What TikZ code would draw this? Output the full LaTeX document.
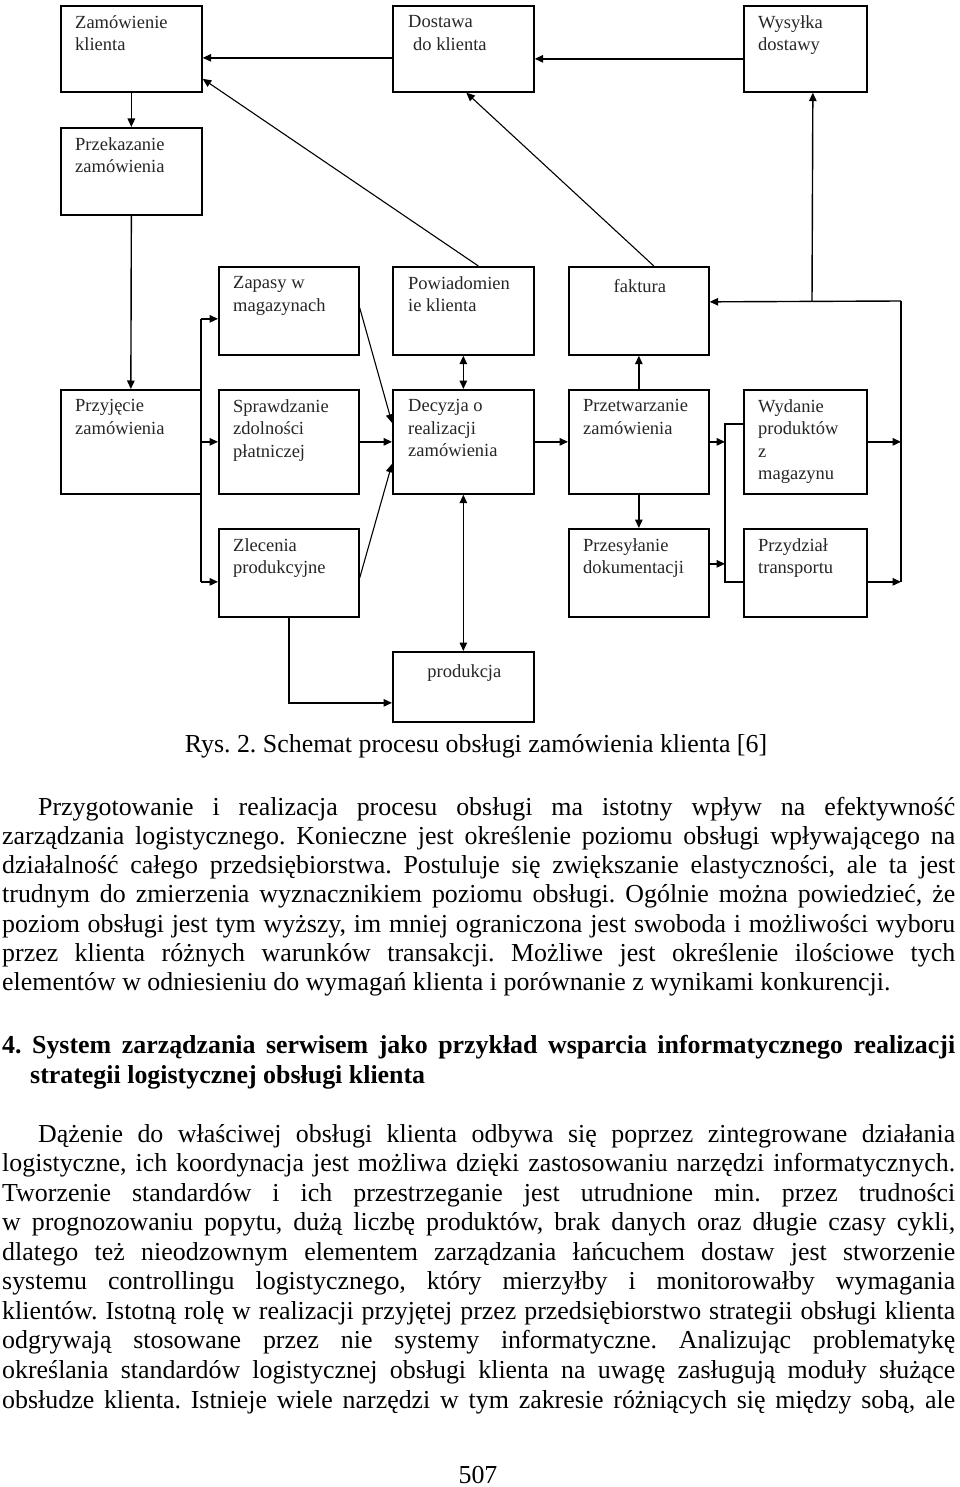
\documentclass[tikz,border=0pt]{standalone}
\usepackage{fontspec}
\setmainfont{Liberation Serif}
\usepackage{graphicx}
\usetikzlibrary{arrows.meta,calc}
\newlength\jlw
\newcommand\jline[2]{\settowidth\jlw{#2}\ifdim\jlw>#1\relax\resizebox{#1}{\height}{#2}\else\makebox[#1][s]{#2}\fi}
\frenchspacing
\begin{document}
\frenchspacing
\begin{tikzpicture}[x=1pt,y=-1pt,
  box/.style={draw, line width=1.7pt, inner sep=0pt, anchor=north west},
  btxt/.style={anchor=north west, inner sep=0pt, align=left, text=black!85,
    font=\fontsize{18.5}{22.5}\selectfont, execute at begin node=\strut},
  ctxt/.style={btxt, anchor=north, align=center},
  arr/.style={-{Triangle[length=8.5pt,width=7.5pt]}, line width=1.4pt},
  darr/.style={{Triangle[length=8.5pt,width=7.5pt]}-{Triangle[length=8.5pt,width=7.5pt]}, line width=1.4pt},
  ln/.style={line width=1.4pt},
  dg/.style={-{Triangle[length=8.5pt,width=7.5pt]}, line width=1.1pt},
  body/.style={anchor=base west, inner sep=0pt, font=\fontsize{25.9}{29.6}\selectfont},
  bodyc/.style={body, anchor=base}]
\fill[white] (0,0) rectangle (960,1487);
\useasboundingbox (0,0) rectangle (960,1487);

% boxes
\node[box, minimum width=141pt, minimum height=86pt] (zk) at (60,5) {};
\node[box, minimum width=141pt, minimum height=86pt] (dk) at (392,5) {};
\node[box, minimum width=123pt, minimum height=86pt] (wd) at (743,5) {};
\node[box, minimum width=141pt, minimum height=87pt] (pz) at (60,127) {};
\node[box, minimum width=140pt, minimum height=88pt] (zm) at (218,266) {};
\node[box, minimum width=141pt, minimum height=88pt] (pk) at (392,266) {};
\node[box, minimum width=140pt, minimum height=88pt] (fk) at (568,266) {};
\node[box, minimum width=140pt, minimum height=104pt] (pr) at (60,389) {};
\node[box, minimum width=140pt, minimum height=104pt] (sz) at (218,389) {};
\node[box, minimum width=141pt, minimum height=104pt] (de) at (392,389) {};
\node[box, minimum width=140pt, minimum height=104pt] (pt) at (568,389) {};
\node[box, minimum width=123pt, minimum height=104pt] (wp) at (743,389) {};
\node[box, minimum width=140pt, minimum height=88pt] (zp) at (218,528) {};
\node[box, minimum width=140pt, minimum height=88pt] (pd) at (568,528) {};
\node[box, minimum width=123pt, minimum height=88pt] (tr) at (743,528) {};
\node[box, minimum width=141pt, minimum height=70pt] (prod) at (392,651) {};

% box texts
\node[btxt] (zkt) at ([shift={(15pt,-10.25pt)}]zk.north west) {Zamówienie\\klienta};
\node[btxt] (dkt) at ([shift={(16pt,-10.25pt)}]dk.north west) {Dostawa\\\hspace*{5pt}do klienta};
\node[btxt] (wdt) at ([shift={(15pt,-10.25pt)}]wd.north west) {Wysyłka\\dostawy};
\node[btxt] (pzt) at ([shift={(15pt,-10.25pt)}]pz.north west) {Przekazanie\\zamówienia};
\node[btxt] (zmt) at ([shift={(15pt,-10.25pt)}]zm.north west) {Zapasy w\\magazynach};
\node[btxt] (pkt) at ([shift={(16pt,-10.25pt)}]pk.north west) {Powiadomien\\ie klienta};
\node[ctxt] (fkt) at ([shift={(1pt,-10.25pt)}]fk.north) {faktura};
\node[btxt] (prt) at ([shift={(15pt,-10.25pt)}]pr.north west) {Przyjęcie\\zamówienia};
\node[btxt] (szt) at ([shift={(15pt,-10.25pt)}]sz.north west) {Sprawdzanie\\zdolności\\płatniczej};
\node[btxt] (det) at ([shift={(16pt,-10.25pt)}]de.north west) {Decyzja o\\realizacji\\zamówienia};
\node[btxt] (ptt) at ([shift={(15pt,-10.25pt)}]pt.north west) {Przetwarzanie\\zamówienia};
\node[btxt] (wpt) at ([shift={(15pt,-10.25pt)}]wp.north west) {Wydanie\\produktów\\z\\magazynu};
\node[btxt] (zpt) at ([shift={(15pt,-10.25pt)}]zp.north west) {Zlecenia\\produkcyjne};
\node[btxt] (pdt) at ([shift={(15pt,-10.25pt)}]pd.north west) {Przesyłanie\\dokumentacji};
\node[btxt] (trt) at ([shift={(15pt,-10.25pt)}]tr.north west) {Przydział\\transportu};
\node[ctxt] (prodt) at ([shift={(1pt,-10.25pt)}]prod.north) {produkcja};

% helper coordinates
\coordinate (bL) at (201,0);
\coordinate (bM) at (725,0);
\coordinate (bR) at (901,0);
\coordinate (jR) at (901,301);
\coordinate (jW) at (812,301);

% top row
\draw[arr] ([yshift=-9pt]dk.west) -- ([yshift=-9pt]zk.east);
\draw[arr] ([yshift=-10pt]wd.west) -- ([yshift=-10pt]dk.east);
\draw[arr] (zk.south) -- (pz.north);
\draw[arr] (pz.south) -- (pr.north);
\draw[dg] ([xshift=15pt]pk.north) -- ([yshift=-30pt]zk.east);
\draw[dg] ([xshift=15pt]fk.north) -- ([xshift=3pt]dk.south);

% left bus
\draw[ln] ([yshift=-8pt]zm.west -| bL) -- ([yshift=-9pt]zp.west -| bL);
\draw[arr] ([yshift=-8pt]zm.west -| bL) -- ([yshift=-8pt]zm.west);
\draw[arr] (sz.west -| bL) -- (sz.west);
\draw[arr] ([yshift=-9pt]zp.west -| bL) -- ([yshift=-9pt]zp.west);

% into decision
\draw[dg] ([yshift=3pt]zm.east) -- ([yshift=19pt]de.west);
\draw[arr] (sz.east) -- (de.west);
\draw[dg] ([yshift=-5pt]zp.east) -- ([yshift=-22pt]de.west);
\draw[darr] (pk.south) -- (de.north);
\draw[darr] (de.south) -- (prod.north);
\draw[arr] (zp.south) |- ([yshift=-16pt]prod.west);
\draw[arr] (de.east) -- (pt.west);

% right part
\draw[arr] (pt.north) -- (fk.south);
\draw[arr] (pt.south) -- (pd.north);
\draw[arr] (pt.east) -- (pt.east -| bM);
\draw[arr] ([yshift=9pt]pd.east) -- ([yshift=9pt]pd.east -| bM);
\draw[ln] ([yshift=18pt]wp.west) -| ([yshift=-9pt]tr.west -| bM) -- ([yshift=-9pt]tr.west);
\draw[arr] (wp.east) -- (wp.east -| bR);
\draw[arr] ([yshift=-9pt]tr.east) -- ([yshift=-9pt]tr.east -| bR);
\draw[ln] ([yshift=-9pt]tr.east -| bR) -- (jR);
\draw[arr] (jR) -- ([yshift=9pt]fk.east);
\draw[arr] (jW) -- ([xshift=7.5pt]wd.south);

% caption and body text
\node[bodyc] (cap) at (476,752) {Rys. 2. Schemat procesu obsługi zamówienia klienta [6]};

\node[body] (a1) at (38,815) {\jline{917pt}{Przygotowanie i realizacja procesu obsługi ma istotny wpływ na efektywność}};
\node[body] (a2) at (2,844.3) {\jline{953pt}{zarządzania logistycznego. Konieczne jest określenie poziomu obsługi wpływającego na}};
\node[body] (a3) at (2,873.6) {\jline{953pt}{działalność całego przedsiębiorstwa. Postuluje się zwiększanie elastyczności, ale ta jest}};
\node[body] (a4) at (2,902.9) {\jline{953pt}{trudnym do zmierzenia wyznacznikiem poziomu obsługi. Ogólnie można powiedzieć, że}};
\node[body] (a5) at (2,932.2) {\jline{953pt}{poziom obsługi jest tym wyższy, im mniej ograniczona jest swoboda i możliwości wyboru}};
\node[body] (a6) at (2,961.5) {\jline{953pt}{przez klienta różnych warunków transakcji. Możliwe jest określenie ilościowe tych}};
\node[body] (a7) at (2,990.8) {elementów w odniesieniu do wymagań klienta i porównanie z wynikami konkurencji.};

\node[body] (h1) at (2,1053) {\bfseries\jline{953pt}{4. System zarządzania serwisem jako przykład wsparcia informatycznego realizacji}};
\node[body] (h2) at (30,1083) {\bfseries strategii logistycznej obsługi klienta};

\node[body] (b1) at (38,1142) {\jline{917pt}{Dążenie do właściwej obsługi klienta odbywa się poprzez zintegrowane działania}};
\node[body] (b2) at (2,1171.6) {\jline{953pt}{logistyczne, ich koordynacja jest możliwa dzięki zastosowaniu narzędzi informatycznych.}};
\node[body] (b3) at (2,1201.1) {\jline{953pt}{Tworzenie standardów i ich przestrzeganie jest utrudnione min. przez trudności}};
\node[body] (b4) at (2,1230.7) {\jline{953pt}{w prognozowaniu popytu, dużą liczbę produktów, brak danych oraz długie czasy cykli,}};
\node[body] (b5) at (2,1260.2) {\jline{953pt}{dlatego też nieodzownym elementem zarządzania łańcuchem dostaw jest stworzenie}};
\node[body] (b6) at (2,1289.8) {\jline{953pt}{systemu controllingu logistycznego, który mierzyłby i monitorowałby wymagania}};
\node[body] (b7) at (2,1319.4) {\jline{953pt}{klientów. Istotną rolę w realizacji przyjętej przez przedsiębiorstwo strategii obsługi klienta}};
\node[body] (b8) at (2,1348.9) {\jline{953pt}{odgrywają stosowane przez nie systemy informatyczne. Analizując problematykę}};
\node[body] (b9) at (2,1378.5) {\jline{953pt}{określania standardów logistycznej obsługi klienta na uwagę zasługują moduły służące}};
\node[body] (b10) at (2,1408) {\jline{953pt}{obsłudze klienta. Istnieje wiele narzędzi w tym zakresie różniących się między sobą, ale}};

\node[bodyc] (pg) at (478,1483) {507};
\end{tikzpicture}
\end{document}
